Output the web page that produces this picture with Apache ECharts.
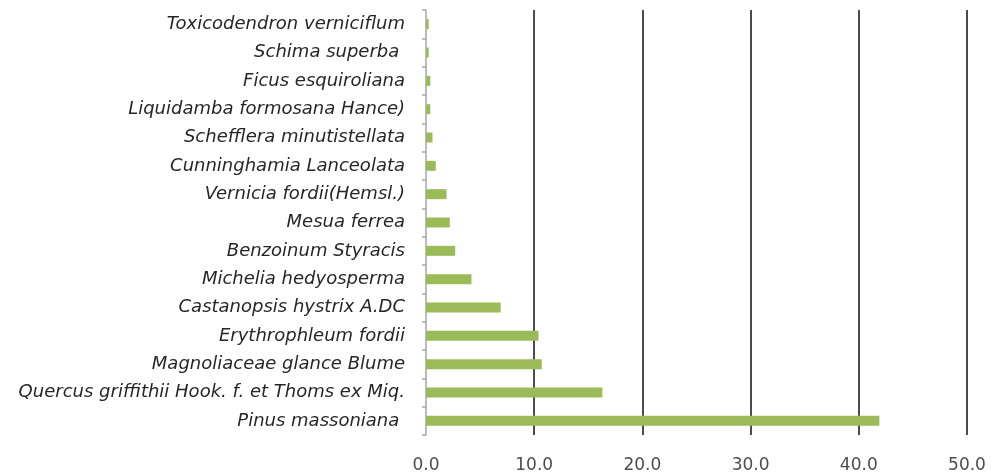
<!DOCTYPE html>
<html>
<head>
<meta charset="utf-8">
<script src="https://cdn.jsdelivr.net/npm/echarts@6/dist/echarts.min.js"></script>
<style>
  html, body { margin: 0; padding: 0; background: #fff; }
  #chart { width: 996px; height: 474px; }
</style>
</head>
<body>
<div id="chart"></div>
<script>
// species, listed top to bottom
const species = [
  'Toxicodendron verniciflum',
  'Schima superba ',
  'Ficus esquiroliana',
  'Liquidamba formosana Hance)',
  'Schefflera minutistellata',
  'Cunninghamia Lanceolata',
  'Vernicia fordii(Hemsl.)',
  'Mesua ferrea',
  'Benzoinum Styracis',
  'Michelia hedyosperma',
  'Castanopsis hystrix A.DC',
  'Erythrophleum fordii',
  'Magnoliaceae glance Blume',
  'Quercus griffithii Hook. f. et Thoms ex Miq.',
  'Pinus massoniana '
];
const values = [0.25, 0.25, 0.4, 0.4, 0.6, 0.9, 1.9, 2.2, 2.7, 4.2, 6.9, 10.4, 10.7, 16.3, 41.9];
const xTicks = [0, 10, 20, 30, 40, 50];

const chart = echarts.init(document.getElementById('chart'), null, { renderer: 'canvas' });

chart.setOption({
  animation: false,
  grid: { left: 426, right: 29, top: 10, bottom: 37 },
  xAxis: {
    type: 'value',
    min: xTicks[0],
    max: xTicks[xTicks.length - 1],
    interval: 10,
    axisLine: { show: false },
    axisTick: { show: false },
    axisLabel: {
      formatter: v => v.toFixed(1),
      color: '#4d4d4d',
      fontSize: 17,
      fontFamily: 'DejaVu Sans',
      margin: 22
    },
    splitLine: {
      show: true,
      lineStyle: {
        color: ['rgba(0,0,0,0)', '#111', '#111', '#111', '#111', '#111'],
        width: 1.5
      }
    }
  },
  yAxis: {
    type: 'category',
    inverse: true,
    data: species,
    axisLine: { show: true, lineStyle: { color: '#a6a6a6', width: 1.5 } },
    axisTick: { show: true, length: 4, lineStyle: { color: '#a6a6a6', width: 1.5 } },
    axisLabel: {
      color: '#262626',
      fontSize: 18,
      fontStyle: 'italic',
      fontFamily: 'DejaVu Sans',
      margin: 21
    },
    splitLine: { show: false }
  },
  series: [{
    type: 'bar',
    data: values,
    barWidth: 10,
    itemStyle: { color: '#9bbb59' }
  }]
});
</script>
</body>
</html>
